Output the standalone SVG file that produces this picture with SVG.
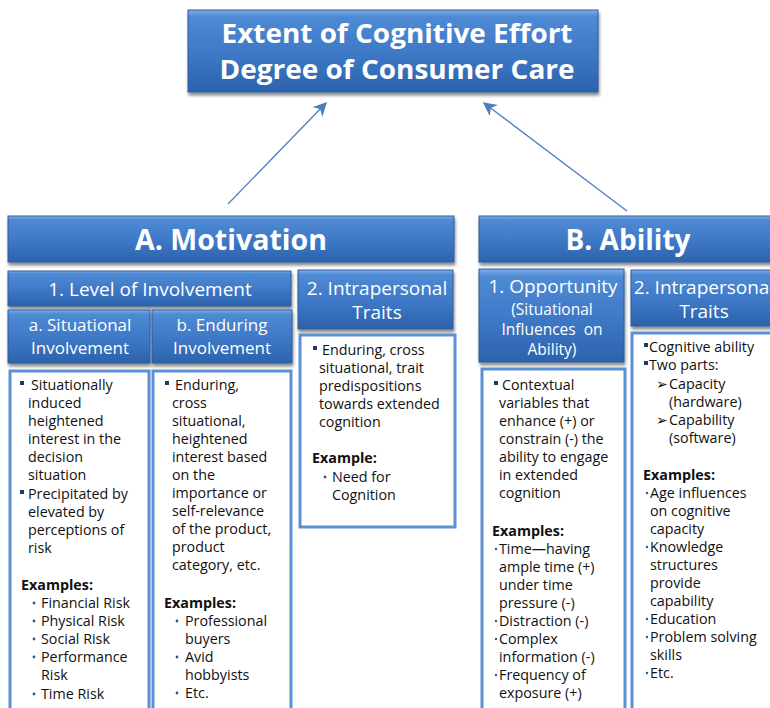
<svg xmlns="http://www.w3.org/2000/svg" width="770" height="708" viewBox="0 0 770 708">
<defs>
<linearGradient id="g" x1="0" y1="0" x2="0" y2="1">
<stop offset="0" stop-color="#7fb0e8"/>
<stop offset="0.08" stop-color="#4f8ad4"/>
<stop offset="0.55" stop-color="#3d78c6"/>
<stop offset="1" stop-color="#2c62ab"/>
</linearGradient>
<filter id="sh" x="-10%" y="-10%" width="120%" height="130%">
<feDropShadow dx="1" dy="3" stdDeviation="1.5" flood-color="#000" flood-opacity="0.45"/>
</filter>
<marker id="ah2" viewBox="0 0 10 10" refX="9" refY="5" markerWidth="14" markerHeight="14" markerUnits="userSpaceOnUse" orient="auto">
<path d="M0,0 L10,5 L0,10 L3,5 Z" fill="#4a7ebf"/>
</marker>
</defs>
<style>
.hdr{fill:url(#g);stroke:#2d5c9a;stroke-width:1;filter:url(#sh)}
.box{fill:#fff;stroke:#5b8fd6;stroke-width:3}
.ht{font-family:"Open Sans","Liberation Sans",sans-serif;fill:#fff;text-anchor:middle}
.b{font-weight:bold}
.t{font-family:"Open Sans","Liberation Sans",sans-serif;font-size:14.3px;fill:#111}
.tb{font-family:"Open Sans","Liberation Sans",sans-serif;font-size:14.3px;fill:#111;font-weight:bold}
.sq{fill:#1f3a6e}
.dot{fill:#2f5597}
.con{stroke:#4f81bd;stroke-width:1.3;fill:none}
</style>

<g id="connectors">
<line class="con" x1="228" y1="204" x2="326" y2="103" marker-end="url(#ah2)"/>
<line class="con" x1="627" y1="211" x2="484" y2="103" marker-end="url(#ah2)"/>
</g>

<g id="title">
<rect class="hdr" x="188" y="10" width="410" height="82"/>
<text class="ht b" x="397" y="43" font-size="27" textLength="351" lengthAdjust="spacingAndGlyphs">Extent of Cognitive Effort</text>
<text class="ht b" x="397" y="79" font-size="27" textLength="355" lengthAdjust="spacingAndGlyphs">Degree of Consumer Care</text>
</g>

<g id="motivation">
<rect class="hdr" x="8" y="216" width="446" height="46"/>
<text class="ht b" x="231" y="250" font-size="28" textLength="192" lengthAdjust="spacingAndGlyphs">A. Motivation</text>
</g>

<g id="ability">
<rect class="hdr" x="479" y="216" width="300" height="46"/>
<text class="ht b" x="628" y="250" font-size="28" textLength="125" lengthAdjust="spacingAndGlyphs">B. Ability</text>
</g>

<g id="level">
<rect class="hdr" x="8" y="271" width="283" height="35"/>
<text class="ht" x="150" y="296" font-size="19">1. Level of Involvement</text>
</g>

<g id="intra-m">
<rect class="hdr" x="298" y="270" width="155" height="59"/>
<text class="ht" x="377" y="295" font-size="19">2. Intrapersonal</text>
<text class="ht" x="377" y="319" font-size="19">Traits</text>
</g>

<g id="situational">
<rect class="hdr" x="8" y="310" width="142" height="53"/>
<text class="ht" x="80" y="331" font-size="17">a. Situational</text>
<text class="ht" x="80" y="354" font-size="17">Involvement</text>
</g>

<g id="enduring">
<rect class="hdr" x="152" y="310" width="140" height="53"/>
<text class="ht" x="222" y="331" font-size="17">b. Enduring</text>
<text class="ht" x="222" y="354" font-size="17">Involvement</text>
</g>

<g id="opportunity">
<rect class="hdr" x="479" y="269" width="145" height="93"/>
<text class="ht" x="553" y="293" font-size="19">1. Opportunity</text>
<text class="ht" x="552" y="315" font-size="15.5">(Situational</text>
<text class="ht" x="552" y="335" font-size="15.5" xml:space="preserve">Influences  on</text>
<text class="ht" x="552" y="355" font-size="15.5">Ability)</text>
</g>

<g id="intra-a">
<rect class="hdr" x="631" y="270" width="150" height="56"/>
<text class="ht" x="704" y="294" font-size="19">2. Intrapersonal</text>
<text class="ht" x="704" y="318" font-size="19">Traits</text>
</g>

<g id="situational-body">
<rect class="box" x="10" y="371" width="139" height="345"/>
<rect class="sq" x="20" y="381" width="4" height="4"/>
<text class="t" x="31" y="390">Situationally</text>
<text class="t" x="28" y="408">induced</text>
<text class="t" x="28" y="426">heightened</text>
<text class="t" x="28" y="444">interest in the</text>
<text class="t" x="28" y="462">decision</text>
<text class="t" x="28" y="480">situation</text>
<rect class="sq" x="20" y="490" width="4" height="4"/>
<text class="t" x="28" y="499">Precipitated by</text>
<text class="t" x="28" y="517">elevated by</text>
<text class="t" x="28" y="535">perceptions of</text>
<text class="t" x="28" y="553">risk</text>
<text class="tb" x="21" y="590">Examples:</text>
<circle class="dot" cx="34" cy="603" r="1.4"/>
<text class="t" x="41" y="608">Financial Risk</text>
<circle class="dot" cx="34" cy="621" r="1.4"/>
<text class="t" x="41" y="626">Physical Risk</text>
<circle class="dot" cx="34" cy="639" r="1.4"/>
<text class="t" x="41" y="644">Social Risk</text>
<circle class="dot" cx="34" cy="657" r="1.4"/>
<text class="t" x="41" y="662">Performance</text>
<text class="t" x="41" y="680">Risk</text>
<circle class="dot" cx="34" cy="694" r="1.4"/>
<text class="t" x="41" y="699">Time Risk</text>
</g>

<g id="enduring-body">
<rect class="box" x="153" y="371" width="138" height="345"/>
<rect class="sq" x="165" y="381" width="4" height="4"/>
<text class="t" x="175" y="390">Enduring,</text>
<text class="t" x="172" y="408">cross</text>
<text class="t" x="172" y="426">situational,</text>
<text class="t" x="172" y="444">heightened</text>
<text class="t" x="172" y="462">interest based</text>
<text class="t" x="172" y="480">on the</text>
<text class="t" x="172" y="498">importance or</text>
<text class="t" x="172" y="516">self-relevance</text>
<text class="t" x="172" y="534">of the product,</text>
<text class="t" x="172" y="552">product</text>
<text class="t" x="172" y="570">category, etc.</text>
<text class="tb" x="164" y="608">Examples:</text>
<circle class="dot" cx="177" cy="621" r="1.4"/>
<text class="t" x="185" y="626">Professional</text>
<text class="t" x="185" y="644">buyers</text>
<circle class="dot" cx="177" cy="657" r="1.4"/>
<text class="t" x="185" y="662">Avid</text>
<text class="t" x="185" y="680">hobbyists</text>
<circle class="dot" cx="177" cy="693" r="1.4"/>
<text class="t" x="185" y="698">Etc.</text>
</g>

<g id="intra-m-body">
<rect class="box" x="300" y="335" width="155" height="192"/>
<rect class="sq" x="313" y="346" width="4" height="4"/>
<text class="t" x="322" y="355">Enduring, cross</text>
<text class="t" x="319" y="373">situational, trait</text>
<text class="t" x="319" y="391">predispositions</text>
<text class="t" x="319" y="409">towards extended</text>
<text class="t" x="319" y="427">cognition</text>
<text class="tb" x="312" y="463">Example:</text>
<circle class="dot" cx="325" cy="477" r="1.4"/>
<text class="t" x="332" y="482">Need for</text>
<text class="t" x="332" y="500">Cognition</text>
</g>

<g id="opportunity-body">
<rect class="box" x="482" y="369" width="143" height="345"/>
<rect class="sq" x="494" y="381" width="4" height="4"/>
<text class="t" x="502" y="390">Contextual</text>
<text class="t" x="499" y="408">variables that</text>
<text class="t" x="499" y="426">enhance (+) or</text>
<text class="t" x="499" y="444">constrain (-) the</text>
<text class="t" x="499" y="462">ability to engage</text>
<text class="t" x="499" y="480">in extended</text>
<text class="t" x="499" y="498">cognition</text>
<text class="tb" x="492" y="536">Examples:</text>
<circle class="dot" cx="496" cy="549" r="1.2"/>
<text class="t" x="499" y="554">Time—having</text>
<text class="t" x="499" y="572">ample time (+)</text>
<text class="t" x="499" y="590">under time</text>
<text class="t" x="499" y="608">pressure (-)</text>
<circle class="dot" cx="496" cy="621" r="1.2"/>
<text class="t" x="499" y="626">Distraction (-)</text>
<circle class="dot" cx="496" cy="639" r="1.2"/>
<text class="t" x="499" y="644">Complex</text>
<text class="t" x="499" y="662">information (-)</text>
<circle class="dot" cx="496" cy="675" r="1.2"/>
<text class="t" x="499" y="680">Frequency of</text>
<text class="t" x="499" y="698">exposure (+)</text>
</g>

<g id="intra-a-body">
<rect class="box" x="632" y="333" width="150" height="385"/>
<rect class="sq" x="644" y="343" width="4" height="4"/>
<text class="t" x="649" y="352">Cognitive ability</text>
<rect class="sq" x="644" y="361" width="4" height="4"/>
<text class="t" x="649" y="370">Two parts:</text>
<text class="t" x="656" y="389" font-family="DejaVu Sans" font-size="12" fill="#1f3a6e">➢</text>
<text class="t" x="669" y="389">Capacity</text>
<text class="t" x="669" y="407">(hardware)</text>
<text class="t" x="656" y="425" font-family="DejaVu Sans" font-size="12" fill="#1f3a6e">➢</text>
<text class="t" x="669" y="425">Capability</text>
<text class="t" x="669" y="443">(software)</text>
<text class="tb" x="643" y="480">Examples:</text>
<circle class="dot" cx="647" cy="493" r="1.2"/>
<text class="t" x="650" y="498">Age influences</text>
<text class="t" x="650" y="516">on cognitive</text>
<text class="t" x="650" y="534">capacity</text>
<circle class="dot" cx="647" cy="547" r="1.2"/>
<text class="t" x="650" y="552">Knowledge</text>
<text class="t" x="650" y="570">structures</text>
<text class="t" x="650" y="588">provide</text>
<text class="t" x="650" y="606">capability</text>
<circle class="dot" cx="647" cy="619" r="1.2"/>
<text class="t" x="650" y="624">Education</text>
<circle class="dot" cx="647" cy="637" r="1.2"/>
<text class="t" x="650" y="642">Problem solving</text>
<text class="t" x="650" y="660">skills</text>
<circle class="dot" cx="647" cy="673" r="1.2"/>
<text class="t" x="650" y="678">Etc.</text>
</g>
</svg>
